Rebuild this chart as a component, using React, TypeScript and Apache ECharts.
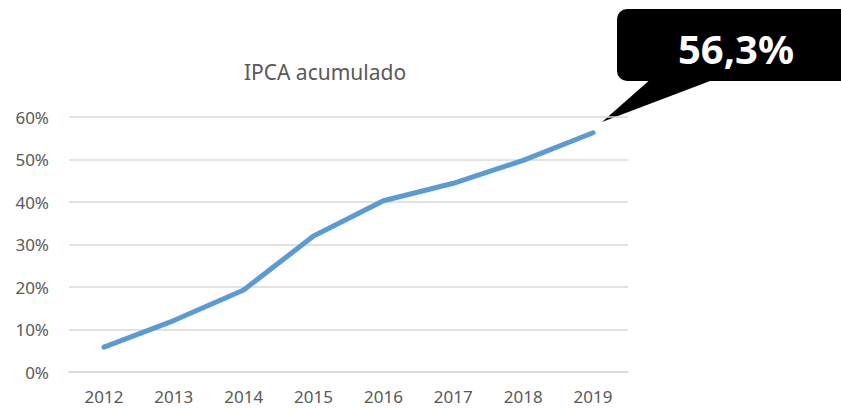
import React, { useEffect, useRef } from "react";
import * as echarts from "echarts";

const categories = ["2012", "2013", "2014", "2015", "2016", "2017", "2018", "2019"];
const ipcaAcumulado = [5.84, 12.1, 19.3, 32.0, 40.3, 44.4, 49.8, 56.3];
const yTicks = [0, 10, 20, 30, 40, 50, 60];
const titleText = "IPCA acumulado";
const calloutText = "56,3%";

export default function App() {
  const ref = useRef<HTMLDivElement>(null);
  useEffect(() => {
    if (!ref.current) return;
    const chart = echarts.init(ref.current, null, { renderer: "svg" });
    const font = "'Noto Sans', sans-serif";
    chart.setOption({
      animation: false,
      backgroundColor: "#ffffff",
      title: {
        text: titleText,
        left: 320,
        top: 56,
        textAlign: "center",
        textStyle: { color: "#595959", fontSize: 21, fontWeight: "normal", fontFamily: font },
      },
      grid: { left: 69, right: 213, top: 117, bottom: 37 },
      xAxis: {
        type: "category",
        data: categories,
        boundaryGap: true,
        axisLine: { show: true, lineStyle: { color: "#d9d9d9", width: 1.5 } },
        axisTick: { show: false },
        axisLabel: { color: "#595959", fontSize: 17, fontFamily: font, margin: 16 },
      },
      yAxis: {
        type: "value",
        min: yTicks[0],
        max: yTicks[yTicks.length - 1],
        interval: 10,
        axisLine: { show: false },
        axisTick: { show: false },
        splitLine: { lineStyle: { color: "#d9d9d9", width: 1.5 } },
        axisLabel: { color: "#595959", fontSize: 17, fontFamily: font, margin: 20, formatter: "{value}%" },
      },
      series: [
        {
          type: "line",
          data: ipcaAcumulado,
          showSymbol: false,
          symbol: "none",
          lineStyle: { color: "#5B9BD5", width: 5, cap: "round", join: "round" },
        },
      ],
      graphic: [
        {
          type: "polygon",
          shape: { points: [[652, 78], [718, 78], [602, 122]] },
          style: { fill: "#000000" },
        },
        {
          type: "rect",
          shape: { x: 617, y: 9, width: 250, height: 72, r: 10 },
          style: { fill: "#000000" },
        },
        {
          type: "text",
          x: 736,
          y: 48,
          style: {
            text: calloutText,
            fill: "#ffffff",
            fontSize: 40,
            fontWeight: "bold",
            fontFamily: font,
            align: "center",
            verticalAlign: "middle",
          },
        },
      ],
    });
    return () => chart.dispose();
  }, []);
  return <div ref={ref} style={{ width: 841, height: 409, position: "absolute", left: 0, top: 0 }} />;
}
